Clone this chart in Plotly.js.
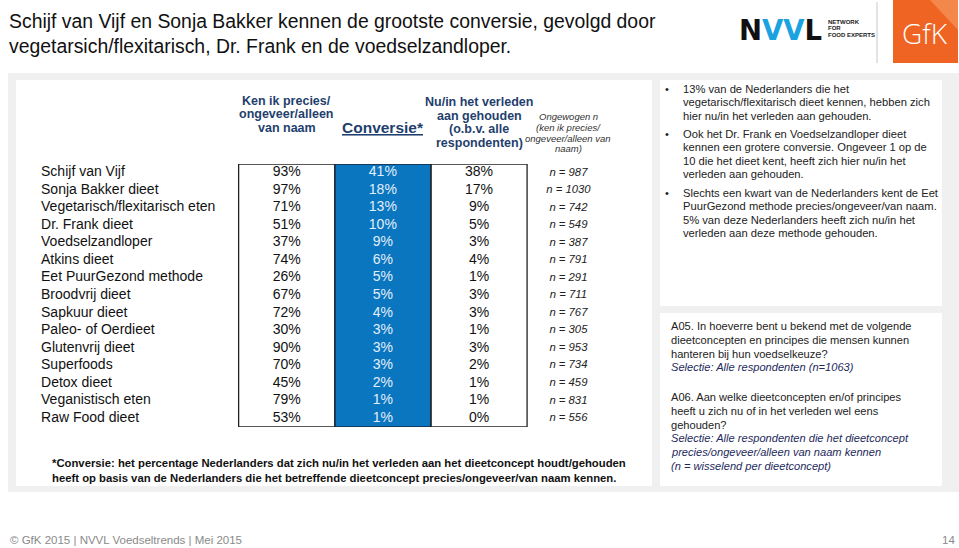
<!DOCTYPE html>
<html>
<head>
<meta charset="utf-8">
<script src="https://cdn.plot.ly/plotly-3.0.1.min.js"></script>
<style>html,body{margin:0;padding:0;background:#fff;}#chart{width:959px;height:548px;}</style>
</head>
<body>
<div id="chart"></div>
<script>
// ---------- data ----------
const diets = ["Schijf van Vijf","Sonja Bakker dieet","Vegetarisch/flexitarisch eten","Dr. Frank dieet","Voedselzandloper","Atkins dieet","Eet PuurGezond methode","Broodvrij dieet","Sapkuur dieet","Paleo- of Oerdieet","Glutenvrij dieet","Superfoods","Detox dieet","Veganistisch eten","Raw Food dieet"];
const known = [93,97,71,51,37,74,26,67,72,30,90,70,45,79,53];
const conversion = [41,18,13,10,9,6,5,5,4,3,3,3,2,1,1];
const usedAll = [38,17,9,5,3,4,1,3,3,1,3,2,1,1,0];
const nCounts = [987,1030,742,549,387,791,291,711,767,305,953,734,459,831,556];

const titleLines = ["Schijf van Vijf en Sonja Bakker kennen de grootste conversie, gevolgd door","vegetarsich/flexitarisch, Dr. Frank en de voedselzandloper."];
const headKnown = ["Ken ik precies/","ongeveer/alleen","van naam"];
const headConv = "Conversie*";
const headUsed = ["Nu/in het verleden","aan gehouden","(o.b.v. alle","respondenten)"];
const headN = ["Ongewogen n","(ken ik precies/","ongeveer/alleen van","naam)"];
const footnote = ["*Conversie: het percentage Nederlanders dat zich nu/in het verleden aan het dieetconcept houdt/gehouden","heeft op basis van de Nederlanders die het betreffende dieetconcept precies/ongeveer/van naam kennen."];
const bullets = [
  ["13% van de Nederlanders die het","vegetarisch/flexitarisch dieet kennen, hebben zich","hier nu/in het verleden aan gehouden."],
  ["Ook het Dr. Frank en Voedselzandloper dieet","kennen een grotere conversie. Ongeveer 1 op de","10 die het dieet kent, heeft zich hier nu/in het","verleden aan gehouden."],
  ["Slechts een kwart van de Nederlanders kent de Eet","PuurGezond methode precies/ongeveer/van naam.","5% van deze Nederlanders heeft zich nu/in het","verleden aan deze methode gehouden."]
];
const questionA05 = ["A05. In hoeverre bent u bekend met de volgende","dieetconcepten en principes die mensen kunnen","hanteren bij hun voedselkeuze?"];
const selA05 = ["Selectie: Alle respondenten (n=1063)"];
const questionA06 = ["A06. Aan welke dieetconcepten en/of principes","heeft u zich nu of in het verleden wel eens","gehouden?"];
const selA06 = ["Selectie: Alle respondenten die het dieetconcept","precies/ongeveer/alleen van naam kennen","(n = wisselend per dieetconcept)"];
const footer = "© GfK 2015 | NVVL Voedseltrends | Mei 2015";
const pageNo = "14";

// ---------- helpers ----------
const W = 959, H = 548;
const FONT = 'Arial, "Liberation Sans", sans-serif';
const px = x => x / W;
const py = y => 1 - y / H;
const NAVY = '#1f3f6e';
const annotations = [];
function addLines(lines, x, y0, dy, font, extra) {
  lines.forEach((t, i) => annotations.push(Object.assign({
    text: t, x: px(x), y: py(y0 + i * dy), xref: 'paper', yref: 'paper',
    xanchor: 'left', yanchor: 'middle', showarrow: false, font: font
  }, extra || {})));
}
function addColLines(lines, col, y0, dy, font) {
  lines.forEach((t, i) => annotations.push({
    text: t, x: col, xref: 'x2', y: py(y0 + i * dy), yref: 'paper',
    xanchor: 'center', yanchor: 'middle', showarrow: false, font: font
  }));
}

// column positions on the table axis
const COL_LABEL = -1.555, COL_KNOWN = 1, COL_CONV = 2, COL_USED = 3, COL_N = 3.93;

// ---------- traces ----------
const traces = [
  { type: 'heatmap', x: [1.5, 2.5], y: diets, z: conversion.map(v => [v]),
    colorscale: [[0, '#0a76c0'], [1, '#0a76c0']], showscale: false,
    xaxis: 'x2', yaxis: 'y2', hoverinfo: 'skip' },
  { type: 'scatter', mode: 'text', x: diets.map(() => COL_LABEL), y: diets, text: diets,
    textposition: 'middle right', textfont: { family: FONT, size: 14, color: '#111' },
    xaxis: 'x2', yaxis: 'y2', cliponaxis: false, hoverinfo: 'skip' },
  { type: 'scatter', mode: 'text', x: known.map(() => COL_KNOWN), y: diets, text: known.map(v => v + '%'),
    textposition: 'middle center', textfont: { family: FONT, size: 14, color: '#111' },
    xaxis: 'x2', yaxis: 'y2', cliponaxis: false, hoverinfo: 'skip' },
  { type: 'scatter', mode: 'text', x: conversion.map(() => COL_CONV), y: diets, text: conversion.map(v => v + '%'),
    textposition: 'middle center', textfont: { family: FONT, size: 14, color: '#e3eef9' },
    xaxis: 'x2', yaxis: 'y2', cliponaxis: false, hoverinfo: 'skip' },
  { type: 'scatter', mode: 'text', x: usedAll.map(() => COL_USED), y: diets, text: usedAll.map(v => v + '%'),
    textposition: 'middle center', textfont: { family: FONT, size: 14, color: '#111' },
    xaxis: 'x2', yaxis: 'y2', cliponaxis: false, hoverinfo: 'skip' },
  { type: 'scatter', mode: 'text', x: nCounts.map(() => COL_N), y: diets, text: nCounts.map(v => 'n = ' + v),
    textposition: 'middle center', textfont: { family: FONT, size: 11.3, color: '#222', style: 'italic' },
    xaxis: 'x2', yaxis: 'y2', cliponaxis: false, hoverinfo: 'skip' }
];

// ---------- decorative shapes ----------
const shapes = [
  { type: 'rect', xref: 'paper', yref: 'paper', x0: px(8), x1: px(959), y0: py(492), y1: py(73), fillcolor: '#f0f0f0', line: { width: 0 }, layer: 'below' },
  { type: 'rect', xref: 'paper', yref: 'paper', x0: px(16), x1: px(652), y0: py(486), y1: py(80), fillcolor: '#ffffff', line: { width: 0 }, layer: 'below' },
  { type: 'rect', xref: 'paper', yref: 'paper', x0: px(660), x1: px(942), y0: py(306), y1: py(80), fillcolor: '#ffffff', line: { width: 0 }, layer: 'below' },
  { type: 'rect', xref: 'paper', yref: 'paper', x0: px(660), x1: px(942), y0: py(486), y1: py(313), fillcolor: '#ffffff', line: { width: 0 }, layer: 'below' },
  { type: 'line', xref: 'paper', yref: 'paper', x0: px(877), x1: px(877), y0: py(63), y1: py(2), line: { color: '#c8c8c8', width: 1 } },
  { type: 'rect', xref: 'paper', yref: 'paper', x0: px(893), x1: px(958), y0: py(63), y1: py(0), fillcolor: '#ef6422', line: { width: 0 } },
  { type: 'path', xref: 'paper', yref: 'paper', path: `M ${px(930)} ${py(0)} L ${px(958)} ${py(0)} L ${px(958)} ${py(30)} Z`, fillcolor: 'rgba(255,200,150,0.35)', line: { width: 0 } },
  { type: 'rect', xref: 'x2', yref: 'y2', x0: 0.5, x1: 1.5, y0: -0.5, y1: 14.5, line: { color: '#222', width: 1.3 }, layer: 'above' },
  { type: 'rect', xref: 'x2', yref: 'y2', x0: 1.5, x1: 2.5, y0: -0.5, y1: 14.5, line: { color: '#1b2a44', width: 1.3 }, layer: 'above' },
  { type: 'rect', xref: 'x2', yref: 'y2', x0: 2.5, x1: 3.5, y0: -0.5, y1: 14.5, line: { color: '#222', width: 1.3 }, layer: 'above' }
];

// ---------- text ----------
addLines(titleLines, 7, 21, 25, { family: FONT, size: 19.4, color: '#111' });

annotations.push({ text: '<span style="color:#111">N</span><span style="color:#1aa3e0">VV</span><span style="color:#111">L</span>',
  x: px(737), y: py(30), xref: 'paper', yref: 'paper', xanchor: 'left', yanchor: 'middle', showarrow: false,
  font: { family: '"DejaVu Sans", sans-serif', size: 27.5, weight: 'bold', color: '#111' } });
addLines(['NETWORK', 'FOR', 'FOOD EXPERTS'], 826, 22, 6.5, { family: FONT, size: 6, color: '#222', weight: 'bold' });
annotations.push({ text: 'GfK', x: px(925), y: py(33), xref: 'paper', yref: 'paper', xanchor: 'center', yanchor: 'middle', showarrow: false,
  font: { family: '"Open Sans", sans-serif', size: 28, color: '#ffffff', weight: 300 } });

addColLines(headKnown.map(t => '<b>' + t + '</b>'), COL_KNOWN, 101, 13.5, { family: FONT, size: 12.5, color: NAVY });
addColLines(['<b><u>' + headConv + '</u></b>'], COL_CONV, 128, 14, { family: FONT, size: 15.5, color: NAVY });
addColLines(headUsed.map(t => '<b>' + t + '</b>'), COL_USED, 102, 13.6, { family: FONT, size: 12.5, color: NAVY });
addColLines(headN.map(t => '<i>' + t + '</i>'), COL_N, 117, 10.6, { family: FONT, size: 9.5, color: '#333' });

addLines(footnote.map(t => '<b>' + t + '</b>'), 50, 463, 14.5, { family: FONT, size: 11.3, color: '#111' });

const yb = [89, 134, 193];
bullets.forEach((b, i) => {
  addLines(['•'], 663, yb[i], 13.5, { family: FONT, size: 11, color: '#222' });
  addLines(b, 681, yb[i], 13.4, { family: FONT, size: 11.2, color: '#222' });
});

const SELCOL = '#1e2a5c';
addLines(questionA05, 669, 326, 13.8, { family: FONT, size: 11.1, color: '#222' });
addLines(selA05.map(t => '<i>' + t + '</i>'), 669, 367.4, 13.8, { family: FONT, size: 11.1, color: SELCOL });
addLines(questionA06, 669, 397, 13.8, { family: FONT, size: 11.1, color: '#222' });
addLines(selA06.map(t => '<i>' + t + '</i>'), 669, 438.4, 13.8, { family: FONT, size: 11.1, color: SELCOL });

addLines([footer], 8, 540, 12, { family: FONT, size: 11.5, color: '#8a8a8a' });
annotations.push({ text: pageNo, x: px(957), y: py(540), xref: 'paper', yref: 'paper', xanchor: 'right', yanchor: 'middle', showarrow: false,
  font: { family: FONT, size: 11.5, color: '#8a8a8a' } });

// ---------- layout ----------
const u = 96.15, c1 = 286.7;
const layout = {
  width: W, height: H,
  margin: { l: 0, r: 0, t: 0, b: 0, pad: 0 },
  paper_bgcolor: '#ffffff', plot_bgcolor: 'rgba(0,0,0,0)',
  showlegend: false,
  xaxis: { visible: false }, yaxis: { visible: false },
  xaxis2: { domain: [px(17), px(652)], range: [1 + (17 - c1) / u, 1 + (652 - c1) / u], anchor: 'y2', visible: false, fixedrange: true },
  yaxis2: { domain: [py(427), py(164)], type: 'category', categoryarray: diets, categoryorder: 'array',
    range: [14.5, -0.5], anchor: 'x2', visible: false, fixedrange: true },
  shapes: shapes,
  annotations: annotations,
  font: { family: FONT }
};

Plotly.newPlot('chart', traces, layout, { staticPlot: true, displayModeBar: false });
</script>
</body>
</html>
